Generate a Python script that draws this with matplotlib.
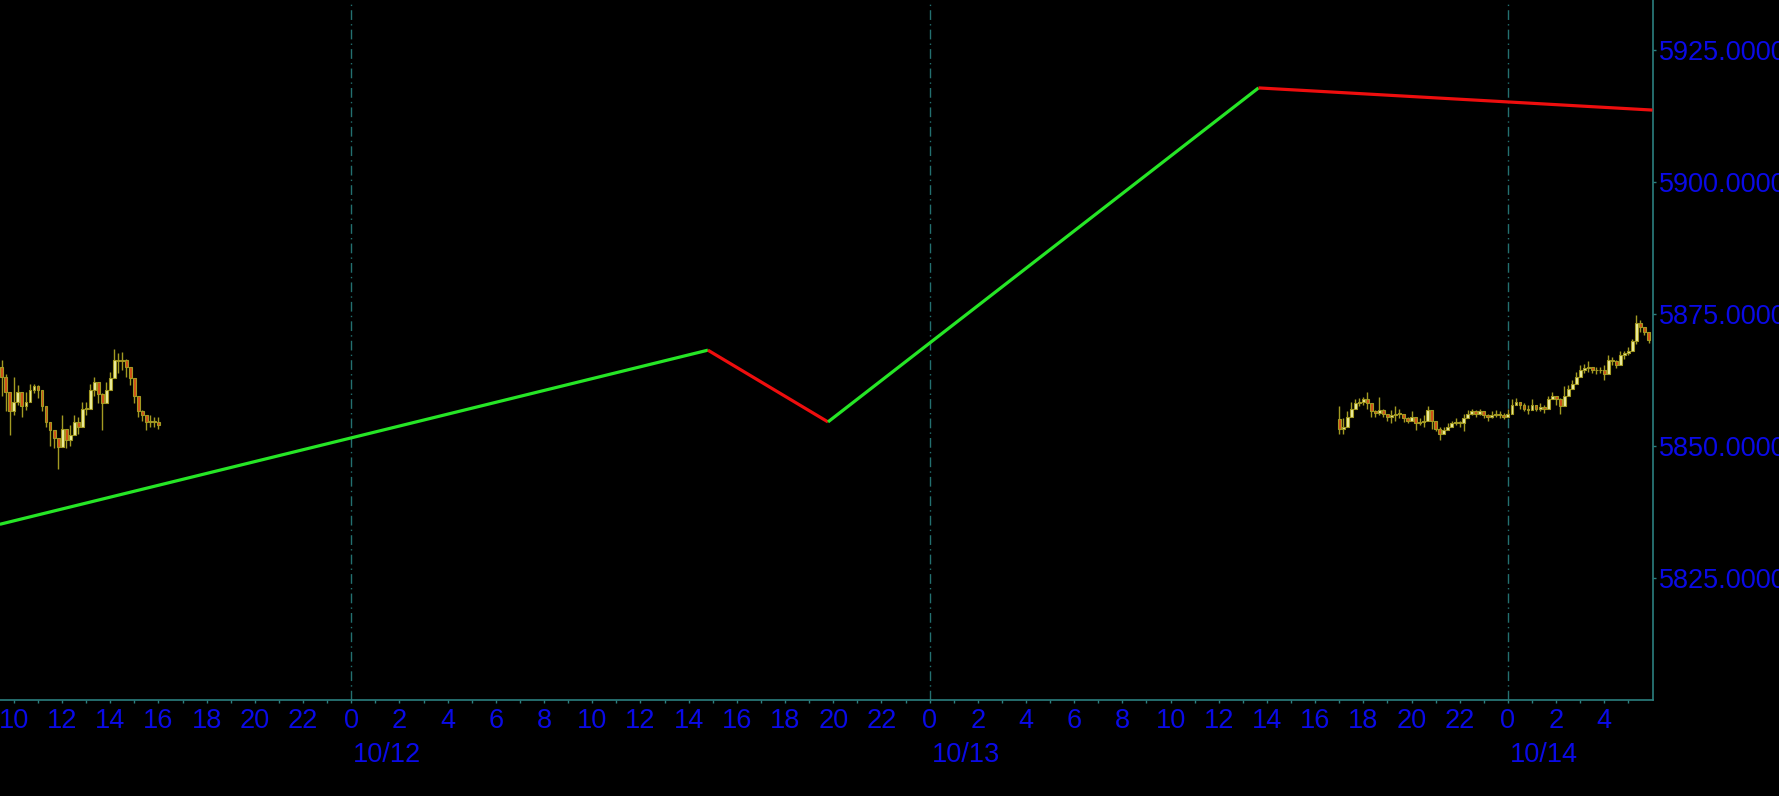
import matplotlib
matplotlib.use("Agg")
import matplotlib.pyplot as plt
import numpy as np
import pandas as pd

# 10-minute bars, friday session (left) and sunday night session (right)
left_start = "2024-10-11 09:30"
left_open0 = 5865.0
left_close = [5863.0, 5860.25, 5856.5, 5858.25, 5860.25, 5857.5, 5858.25, 5860.5, 5861.25, 5860.5,
              5857.5, 5854.5, 5853.0, 5851.5, 5849.75, 5853.25, 5851.0, 5852.0, 5854.5, 5853.5,
              5857.0, 5857.0, 5860.5, 5862.0, 5859.75, 5858.0, 5860.5, 5862.75, 5866.25, 5866.0,
              5866.25, 5865.0, 5862.75, 5859.5, 5856.5, 5855.75, 5854.5, 5854.75, 5854.5, 5854.0]
left_high = [5866.25, 5863.5, 5859.5, 5863.0, 5861.5, 5859.5, 5860.25, 5861.75, 5861.75, 5861.5,
             5859.5, 5856.5, 5854.25, 5853.0, 5851.25, 5855.75, 5853.25, 5854.0, 5855.75, 5855.5,
             5858.25, 5858.25, 5861.75, 5863.0, 5861.0, 5860.0, 5862.0, 5864.0, 5868.25, 5867.5,
             5867.75, 5866.5, 5864.75, 5862.0, 5858.25, 5856.75, 5855.75, 5855.75, 5855.5, 5855.5]
left_low = [5859.5, 5856.5, 5852.0, 5855.75, 5857.75, 5855.5, 5856.75, 5858.25, 5860.0, 5859.0,
            5856.5, 5853.5, 5850.0, 5849.5, 5845.5, 5850.5, 5849.5, 5850.0, 5852.75, 5852.25,
            5854.5, 5855.75, 5858.0, 5859.5, 5858.0, 5853.0, 5858.25, 5861.25, 5864.0, 5863.75,
            5864.25, 5863.0, 5861.5, 5858.0, 5855.5, 5854.75, 5853.0, 5853.5, 5853.5, 5853.25]

right_start = "2024-10-13 17:00"
right_open0 = 5855.0
right_close = [5853.25, 5853.5, 5855.5, 5857.0, 5858.0, 5858.25, 5858.75, 5858.0, 5856.5, 5856.25,
               5856.75, 5856.0, 5855.5, 5855.75, 5856.0, 5856.0, 5855.25, 5854.75, 5855.5, 5854.25,
               5854.5, 5854.75, 5856.75, 5854.75, 5853.25, 5852.25, 5853.0, 5853.5, 5854.25, 5854.5,
               5854.25, 5855.25, 5856.0, 5856.5, 5856.0, 5856.5, 5855.75, 5855.5, 5855.75, 5856.0,
               5855.75, 5855.5, 5856.0, 5857.75, 5858.25, 5857.75, 5857.0, 5856.75, 5857.75, 5857.0,
               5857.25, 5857.0, 5858.75, 5859.5, 5858.75, 5857.5, 5859.5, 5860.75, 5861.75, 5863.0,
               5864.25, 5864.75, 5865.0, 5864.25, 5864.25, 5864.25, 5863.5, 5866.25, 5866.0, 5865.25,
               5867.25, 5867.5, 5868.0, 5869.75, 5873.25, 5872.5, 5871.5, 5870.0]
right_high = [5857.5, 5855.25, 5856.5, 5858.25, 5858.75, 5859.0, 5859.25, 5860.25, 5857.5, 5856.75,
              5859.25, 5857.0, 5856.0, 5856.75, 5857.5, 5857.0, 5855.75, 5855.5, 5856.5, 5855.25,
              5855.25, 5855.75, 5857.5, 5856.5, 5854.25, 5853.5, 5853.5, 5854.25, 5854.75, 5855.25,
              5854.75, 5856.0, 5856.75, 5857.0, 5856.75, 5857.0, 5856.5, 5856.0, 5856.5, 5856.75,
              5856.5, 5856.25, 5857.0, 5858.75, 5859.0, 5858.25, 5858.0, 5857.75, 5858.75, 5857.75,
              5858.0, 5857.75, 5859.5, 5860.25, 5859.5, 5859.0, 5861.25, 5861.5, 5862.5, 5864.0,
              5865.25, 5865.5, 5866.0, 5865.0, 5865.0, 5865.0, 5865.25, 5867.25, 5866.75, 5866.25,
              5868.0, 5868.0, 5868.75, 5870.25, 5874.75, 5873.75, 5872.5, 5871.5]
right_low = [5852.25, 5852.25, 5854.25, 5856.0, 5857.0, 5857.5, 5857.75, 5857.0, 5855.5, 5855.5,
             5855.75, 5855.5, 5854.75, 5854.25, 5854.75, 5855.25, 5854.5, 5854.25, 5854.75, 5853.0,
             5854.0, 5853.5, 5854.75, 5853.25, 5852.75, 5851.0, 5852.25, 5853.0, 5853.5, 5854.0,
             5853.5, 5852.75, 5855.25, 5855.75, 5855.5, 5855.75, 5855.25, 5854.75, 5855.25, 5855.5,
             5855.25, 5855.0, 5855.5, 5856.75, 5857.75, 5857.0, 5856.5, 5856.0, 5856.75, 5856.5,
             5856.5, 5856.25, 5857.5, 5859.0, 5857.75, 5856.0, 5858.75, 5859.5, 5861.25, 5862.0,
             5863.25, 5863.75, 5864.0, 5863.75, 5863.5, 5863.75, 5862.5, 5865.25, 5865.25, 5864.75,
             5866.25, 5866.5, 5867.25, 5868.75, 5869.25, 5871.5, 5871.0, 5869.5]

# zigzag pivots
zz_time = ["2024-10-11 09:25", "2024-10-12 14:48", "2024-10-12 19:47", "2024-10-13 13:39", "2024-10-14 06:00"]
zz_price = [5835.1, 5868.1, 5854.5, 5917.8, 5913.6]

y_ticks = [5825, 5850, 5875, 5900, 5925]
days = ["2024-10-12", "2024-10-13", "2024-10-14"]
day_labels = ["10/12", "10/13", "10/14"]

t0 = pd.Timestamp("2024-10-12 00:00")
def hrs(t):
    return (pd.to_datetime(t) - t0) / pd.Timedelta(hours=1)

teal = "#2b7f7f"
blue = "#0a0ae6"
fs = 19.5
plt.rcParams['font.family'] = ['Liberation Sans', 'DejaVu Sans']

fig = plt.figure(figsize=(17.79, 7.96), dpi=100, facecolor="black")
ax = fig.add_axes([0, 96 / 796, 1653 / 1779, 700 / 796])
ax.set_facecolor("black")

def candles(start, open0, close, high, low):
    t = np.asarray(hrs(pd.date_range(start, periods=len(close), freq="10min")))
    c = np.array(close)
    o = np.concatenate([[open0], c[:-1]])
    up = c >= o
    ax.vlines(t, low, high, color="#a39a22", lw=1.0, zorder=2)
    bottom = np.minimum(o, c)
    height = np.maximum(np.abs(c - o), 0.15)
    ax.bar(t[up], height[up], bottom=bottom[up], width=0.12, color="#eeeea0",
           edgecolor="#a39a22", linewidth=0.8, zorder=3)
    ax.bar(t[~up], height[~up], bottom=bottom[~up], width=0.12, color="#d24e18",
           edgecolor="#a39a22", linewidth=0.8, zorder=3)

candles(left_start, left_open0, left_close, left_high, left_low)
candles(right_start, right_open0, right_close, right_high, right_low)

zx = np.asarray(hrs(zz_time))
for i in range(len(zx) - 1):
    col = "#26e626" if zz_price[i + 1] > zz_price[i] else "#ee0e0e"
    ax.plot(zx[i:i + 2], zz_price[i:i + 2], color=col, lw=2.3, solid_capstyle="butt", zorder=4)

# day separators
for d, lab in zip(days, day_labels):
    x = hrs(d)
    ax.axvline(x, color="#237070", lw=1.0, ls=(0, (7, 3, 1, 3)), zorder=1)
    ax.text(x + 0.08, -0.078, lab, transform=ax.get_xaxis_transform(), color=blue,
            fontsize=fs, ha="left", va="center", clip_on=False)

ax.set_xlim(-14.577, 54.02)
ax.set_ylim(5801.8, 5934.46)

major = np.arange(-14, 53, 2)
ax.set_xticks(major)
ax.set_xticklabels([str(int(h % 24)) for h in major])
ax.set_xticks(np.arange(-13, 55, 2), minor=True)
ax.tick_params(axis="x", which="both", colors=teal, length=2.5, width=1, pad=3,
               labelcolor=blue, labelsize=fs)

ax.yaxis.tick_right()
ax.set_yticks(y_ticks)
ax.set_yticklabels([f"{v:.4f}" for v in y_ticks])
ax.tick_params(axis="y", colors=teal, length=2.5, width=1, pad=1.5,
               labelcolor=blue, labelsize=fs)

for s in ["left", "top"]:
    ax.spines[s].set_visible(False)
for s in ["bottom", "right"]:
    ax.spines[s].set_color(teal)
    ax.spines[s].set_linewidth(1.2)

fig.savefig("out.png", dpi=100, facecolor="black")
